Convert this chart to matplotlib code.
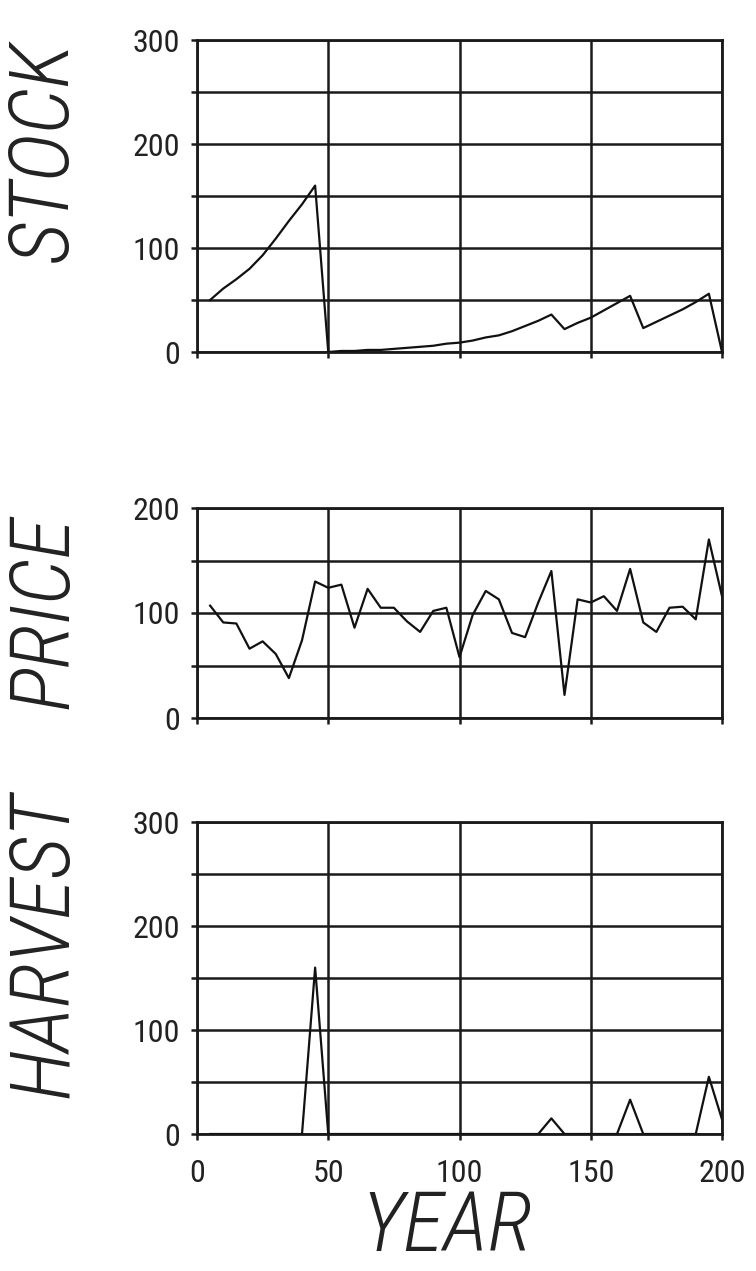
import matplotlib
matplotlib.use('Agg')
import matplotlib.pyplot as plt

plt.rcParams['font.family'] = ['Roboto Condensed', 'Roboto', 'DejaVu Sans']

# simulated fishery, values every 5 years
years = [5, 10, 15, 20, 25, 30, 35, 40, 45, 50,
         55, 60, 65, 70, 75, 80, 85, 90, 95, 100,
         105, 110, 115, 120, 125, 130, 135, 140, 145, 150,
         155, 160, 165, 170, 175, 180, 185, 190, 195, 200]

stock = [50, 61, 70, 80, 93, 109, 126, 142, 160, 0,
         1, 1, 2, 2, 3, 4, 5, 6, 8, 9,
         11, 14, 16, 20, 25, 30, 36, 22, 28, 33,
         40, 47, 54, 23, 29, 35, 41, 48, 56, 0]

price = [107, 91, 90, 66, 73, 61, 38, 74, 130, 124,
         127, 86, 123, 105, 105, 92, 82, 102, 105, 58,
         98, 121, 113, 81, 77, 110, 140, 22, 113, 110,
         116, 102, 142, 91, 82, 105, 106, 94, 170, 116]

harvest = [0, 0, 0, 0, 0, 0, 0, 0, 160, 0,
           0, 0, 0, 0, 0, 0, 0, 0, 0, 0,
           0, 0, 0, 0, 0, 0, 15, 0, 0, 0,
           0, 0, 33, 0, 0, 0, 0, 0, 55, 14]

x_ticks = [0, 50, 100, 150, 200]

W, H = 756, 1271
fig = plt.figure(figsize=(W / 100, H / 100), dpi=100)
fig.patch.set_facecolor('white')


def make_panel(rect, values, ymax, label, label_y, show_x):
    ax = fig.add_axes(rect)
    ax.plot(years, values, color='#111111', linewidth=1.6, zorder=3)
    ax.set_xlim(0, 200)
    ax.set_ylim(0, ymax)
    ax.set_xticks(x_ticks)
    ax.set_yticks(range(0, ymax + 1, 50))
    ax.set_yticklabels([str(v) if v % 100 == 0 else '' for v in range(0, ymax + 1, 50)])
    ax.grid(True, color='#1a1a1a', linewidth=1.8)
    for s in ax.spines.values():
        s.set_color('#1a1a1a')
        s.set_linewidth(2)
    ax.tick_params(axis='both', direction='out', length=4, width=1.8,
                   color='#1a1a1a', labelsize=23, labelcolor='#222222')
    ax.tick_params(axis='y', pad=8)
    ax.tick_params(axis='x', pad=14)
    if not show_x:
        ax.set_xticklabels([])
    fig.text(45 / W, 1 - label_y / H, label, rotation=90, ha='center', va='center',
             fontsize=60, style='italic', fontweight='light', color='#222222')
    return ax


make_panel([197 / W, 1 - 352 / H, 525 / W, 312 / H], stock, 300, 'STOCK', 152, False)
make_panel([197 / W, 1 - 718 / H, 525 / W, 210 / H], price, 200, 'PRICE', 612, False)
make_panel([197 / W, 1 - 1134 / H, 525 / W, 312 / H], harvest, 300, 'HARVEST', 945, True)

fig.text(447 / W, 1 - 1228 / H, 'YEAR', ha='center', va='center',
         fontsize=60, style='italic', fontweight='light', color='#222222')

fig.savefig('out.png', dpi=100, facecolor='white')
